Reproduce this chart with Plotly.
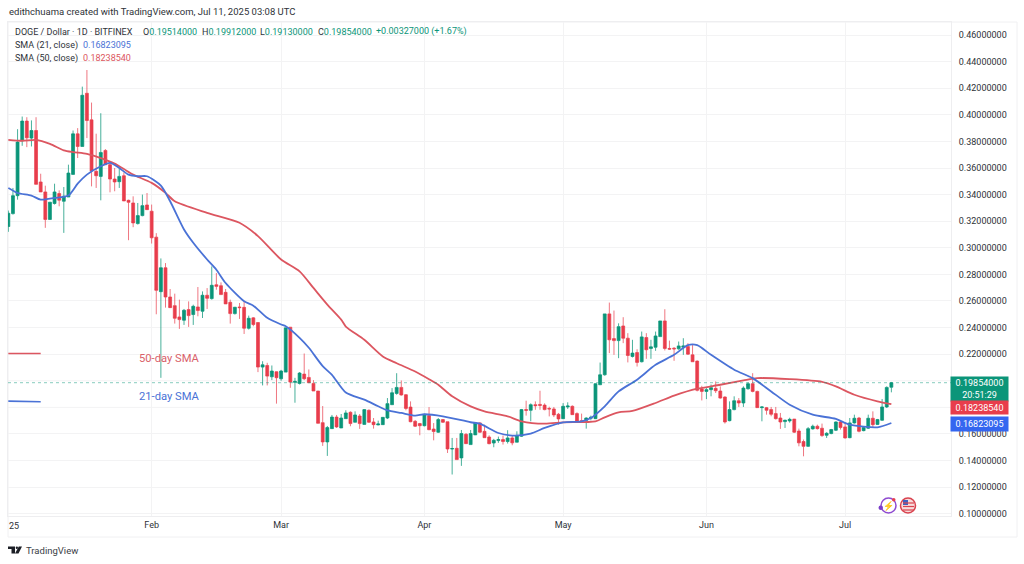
"""DOGE / Dollar daily candles with the 21 and 50 day SMA, TradingView look."""
import pandas as pd
import plotly.graph_objects as go

W, H = 1024, 564
PANE_L, PANE_R, PANE_T, PANE_B = 8, 951, 22, 516

# ==============================
#  Data
# ==============================
dates = pd.date_range("2025-01-01", periods=192, freq="D")

opens = [
    .316, .3257, .3392, .3805, .3953, .3825, .3882, .3495, .342, .3213, .3333, .3408,
    .335, .3382, .3552, .3857, .3762, .4162, .3962, .3575, .3537, .3732, .3625, .3517,
    .3497, .3542, .3357, .3337, .3182, .3242, .3322, .3275, .308, .267, .285, .263,
    .2565, .248, .2455, .2535, .2498, .2555, .2523, .2643, .2618, .2722, .2715, .2665,
    .259, .2505, .2555, .2552, .2395, .2473, .2438, .2103, .2115, .203, .2068, .2015,
    .2065, .2403, .1988, .198, .205, .2025, .198, .1923, .1685, .154, .164, .1727,
    .1645, .1715, .1763, .1688, .1735, .1672, .1778, .169, .1668, .167, .172, .182,
    .1905, .195, .1895, .1802, .1695, .1678, .1662, .1738, .1637, .1613, .1708, .1692,
    .1487, .1492, .142, .1597, .152, .1593, .1683, .162, .1577, .1532, .155, .1558,
    .1543, .157, .1538, .1583, .1783, .1778, .182, .1822, .1817, .1792, .1788, .1748,
    .1715, .1803, .1808, .1753, .17, .1702, .1718, .1715, .197, .2045, .2503, .2317,
    .2302, .2412, .232, .2183, .2212, .2143, .2325, .2243, .2252, .2332, .245, .2243,
    .2245, .224, .2252, .2258, .2195, .2148, .1938, .192, .1933, .1943, .1923, .1878,
    .17, .1783, .185, .1833, .194, .1978, .192, .1798, .1798, .1783, .1753, .172,
    .1693, .1698, .1712, .1622, .1543, .1507, .1638, .1658, .1643, .159, .1603, .1628,
    .169, .1653, .1572, .1683, .172, .1625, .1643, .1718, .1672, .1703, .1803, .19514,
]
highs = [
    .328, .345, .3892, .3987, .3982, .3958, .3982, .3557, .3467, .3343, .3482, .3432,
    .3457, .3625, .3882, .39, .4212, .4337, .4092, .3858, .4012, .3742, .365, .36,
    .36, .3567, .3362, .3387, .3337, .34, .3412, .3325, .311, .292, .2885, .269,
    .2655, .261, .254, .2597, .2572, .2705, .2672, .2697, .286, .281, .274, .269,
    .261, .2555, .2585, .2597, .249, .2478, .2438, .2147, .2135, .2115, .207, .2082,
    .2398, .2403, .2022, .2065, .2205, .2085, .2005, .1923, .181, .166, .1743, .1743,
    .175, .1778, .177, .177, .175, .1785, .1785, .172, .17, .1725, .187, .1945,
    .2057, .2002, .19, .1845, .1705, .1683, .1752, .1802, .1682, .172, .1712, .1692,
    .157, .157, .163, .1607, .163, .169, .1688, .167, .159, .1563, .158, .1588,
    .1628, .159, .162, .1788, .185, .183, .1845, .1925, .183, .1805, .1803, .1758,
    .1832, .1838, .1815, .1763, .1753, .1725, .1738, .198, .2137, .2503, .2588, .2528,
    .2432, .2478, .2358, .2308, .2237, .237, .2358, .2308, .237, .245, .2538, .2302,
    .2253, .2295, .232, .2283, .227, .2153, .1962, .1945, .1972, .1995, .1958, .1883,
    .1845, .1883, .187, .1958, .1988, .2057, .1925, .1808, .1803, .1803, .1803, .1758,
    .1708, .1722, .1712, .164, .1558, .1652, .1670, .1670, .1678, .1613, .1638, .1695,
    .1703, .1688, .172, .1745, .1728, .1657, .1745, .177, .1713, .1863, .1958, .19912,
]
lows = [
    .312, .325, .3362, .3767, .3757, .3762, .3477, .342, .315, .3213, .3325, .3312,
    .3112, .3382, .3552, .3675, .3762, .3825, .3462, .345, .3357, .3622, .3417, .3425,
    .345, .3352, .3057, .3155, .3175, .3237, .3287, .3032, .25, .2022, .255, .2548,
    .243, .239, .242, .2405, .242, .2485, .2472, .254, .261, .2685, .2648, .2578,
    .243, .2498, .2465, .2352, .2385, .241, .2065, .1965, .1965, .2005, .1828, .2,
    .2065, .1947, .1835, .1972, .2005, .1985, .1923, .168, .151, .1435, .164, .1645,
    .1645, .1715, .1658, .1688, .1638, .1672, .1683, .164, .1665, .167, .1712, .182,
    .1895, .1888, .1778, .1688, .1652, .159, .1657, .1628, .1552, .1608, .1683, .1457,
    .1295, .1407, .136, .1527, .152, .1593, .1608, .1572, .1522, .15, .1533, .152,
    .1528, .1515, .1538, .1578, .1738, .1695, .1782, .1782, .1778, .1732, .1727, .167,
    .1712, .1788, .1745, .1690, .1688, .164, .1703, .1712, .197, .2038, .2208, .2195,
    .217, .2283, .2138, .2175, .2107, .2138, .2165, .2165, .2225, .2332, .2228, .2232,
    .215, .2233, .2195, .2195, .2143, .1920, .1852, .1862, .1883, .1908, .1865, .1678,
    .1695, .1778, .1803, .1803, .1933, .1913, .1798, .1695, .1745, .1733, .1708, .1638,
    .1645, .1685, .1607, .1507, .1432, .1503, .1633, .1633, .1578, .157, .1598, .1622,
    .1633, .1565, .1568, .1678, .1612, .1620, .1638, .1652, .1668, .1698, .1795, .1913,
]
closes = [
    .326, .3392, .3795, .3953, .3827, .3882, .3477, .342, .3213, .3343, .342, .3358,
    .3388, .3562, .3857, .3762, .4147, .3957, .3577, .3542, .3717, .3625, .3517, .3495,
    .3537, .3352, .3342, .3187, .3242, .3317, .3287, .3075, .268, .285, .263, .255,
    .247, .246, .253, .249, .256, .2528, .2643, .262, .2718, .271, .2648, .2578,
    .2505, .2553, .255, .2395, .247, .2423, .2103, .212, .2035, .2073, .2023, .2073,
    .2398, .199, .1995, .2058, .2015, .1985, .1923, .168, .154, .1648, .1727, .1653,
    .172, .1758, .1678, .1743, .1678, .1783, .1688, .167, .1675, .1725, .1828, .191,
    .195, .1893, .1792, .1692, .1658, .1662, .1745, .1632, .1618, .1708, .1688, .1487,
    .149, .1407, .1603, .1527, .1603, .1683, .1613, .1572, .1527, .1552, .1558, .1543,
    .157, .1533, .1588, .1783, .1778, .182, .1813, .1815, .1783, .1788, .1743, .1713,
    .1808, .181, .1745, .1695, .1695, .172, .1725, .1978, .2045, .2503, .2308, .2302,
    .2407, .232, .219, .2208, .2138, .233, .2233, .2255, .2337, .245, .2243, .2238,
    .224, .2262, .2262, .22, .2143, .1928, .192, .1933, .1948, .1925, .187, .169,
    .1783, .185, .1833, .1945, .1978, .192, .1798, .1803, .1778, .1748, .1715, .169,
    .1703, .171, .1613, .1533, .1507, .164, .1658, .164, .1588, .1605, .1633, .169,
    .1648, .157, .1683, .1718, .162, .1648, .1718, .167, .1708, .1803, .195, .19854,
]

# SMA readings: day number since Jan 1, value at that day
sma21_days = [0, 2, 5, 7, 10, 13, 15, 17, 20, 22, 24, 26, 28, 30, 33, 35, 38, 40, 43, 45, 47,
              51, 53, 56, 59, 60, 63, 65, 68, 70, 73, 77, 80, 82, 85, 88, 90, 94, 100, 102,
              106, 109, 113, 116, 120, 124, 126, 129, 132, 136, 140, 144, 147, 149, 152,
              157, 161, 165, 169, 174, 179, 182, 188, 191]
sma21_vals = [.345, .3412, .3392, .3362, .3375, .3393, .3482, .355, .3613, .3638, .36, .355,
              .3538, .3538, .3468, .335, .3138, .3038, .2912, .2835, .2735, .2598, .2565,
              .2473, .2423, .241, .2323, .2248, .211, .2045, .1912, .1858, .1808, .1778,
              .1758, .1738, .1748, .1733, .1688, .1677, .1607, .1588, .1603, .1645, .1687,
              .1695, .172, .1808, .192, .2008, .212, .2195, .2268, .2268, .2195, .2083,
              .202, .192, .182, .1745, .1713, .167, .165, .16823]
sma50_days = [0, 3, 6, 9, 12, 14, 17, 20, 23, 25, 27, 31, 34, 36, 43, 50, 54, 59, 63, 66, 69,
              72, 73, 77, 81, 84, 88, 91, 93, 96, 100, 103, 108, 111, 116, 120, 127, 129,
              132, 135, 140, 144, 149, 154, 159, 162, 169, 176, 179, 183, 188, 191]
sma50_vals = [.3812, .3805, .3812, .3782, .3733, .372, .3707, .3675, .3633, .3592, .355, .3488,
              .3413, .335, .3263, .3188, .3088, .2912, .2823, .2698, .2573, .246, .2408,
              .2308, .2183, .2132, .207, .2012, .197, .1883, .1807, .177, .1733, .1695,
              .1677, .1687, .1695, .1725, .1762, .1773, .1833, .1888, .194, .197, .2003,
              .202, .2012, .1992, .1958, .1895, .1845, .18239]

# short leftovers of the pasted SMA key on the left edge
key_days = [0, 7]
key50_vals = [.2205, .2205]
key21_vals = [.1847, .1842]

tick_months = ["2025-02-01", "2025-03-01", "2025-04-01", "2025-05-01", "2025-06-01", "2025-07-01"]
month_labels = ["Feb", "Mar", "Apr", "May", "Jun", "Jul"]
price_ticks = [.46, .44, .42, .40, .38, .36, .34, .32, .30, .28, .26, .24, .22, .16, .14, .12, .10]
price_grid = [.20, .18]

GREEN, RED = "#0b9579", "#e83d4c"
LINE_BLUE, LINE_RED = "#4a72d6", "#dc5660"
GRID = "#f3f3f4"
TEXT = "#2e3238"
FONT = "Roboto"


def px(x):
    return (x - PANE_L) / (PANE_R - PANE_L)


def py(y):
    return (PANE_B - y) / (PANE_B - PANE_T)


def label(x, y, text, color=TEXT, size=9, anchor="left", **kw):
    fig.add_annotation(x=px(x), y=py(y), xref="paper", yref="paper", text=text, showarrow=False,
                       xanchor=anchor, yanchor="middle", font=dict(size=size, color=color, family=FONT),
                       borderpad=0, **kw)


def day(n):
    return dates[0] + pd.Timedelta(days=n)


# ==============================
#  Traces
# ==============================
fig = go.Figure()

fig.add_trace(go.Candlestick(
    x=dates, open=opens, high=highs, low=lows, close=closes,
    increasing=dict(line=dict(color="rgba(11,149,121,0.75)", width=1), fillcolor=GREEN),
    decreasing=dict(line=dict(color="rgba(232,61,76,0.7)", width=1), fillcolor=RED),
    whiskerwidth=0, showlegend=False,
))
fig.add_trace(go.Scatter(x=[day(d) for d in sma50_days], y=sma50_vals, mode="lines",
                         line=dict(color=LINE_RED, width=1.8, shape="spline", smoothing=0.7),
                         showlegend=False))
fig.add_trace(go.Scatter(x=[day(d) for d in sma21_days], y=sma21_vals, mode="lines",
                         line=dict(color=LINE_BLUE, width=1.8, shape="spline", smoothing=0.7),
                         showlegend=False))
fig.add_trace(go.Scatter(x=[day(d) for d in key_days], y=key50_vals, mode="lines",
                         line=dict(color=LINE_RED, width=1.6), showlegend=False))
fig.add_trace(go.Scatter(x=[day(d) for d in key_days], y=key21_vals, mode="lines",
                         line=dict(color=LINE_BLUE, width=1.6), showlegend=False))

# ==============================
#  Layout
# ==============================
fig.update_layout(
    width=W, height=H, autosize=False,
    margin=dict(l=PANE_L, r=W - PANE_R, t=PANE_T, b=H - PANE_B, pad=0),
    paper_bgcolor="white", plot_bgcolor="white",
    font=dict(family=FONT, size=9, color=TEXT),
    showlegend=False, boxgap=0.1, hovermode=False,
)
fig.update_xaxes(
    rangeslider_visible=False,
    range=[day(-0.07), day(203.9)],
    tickmode="array", tickvals=tick_months, ticktext=month_labels,
    showgrid=True, gridcolor=GRID, gridwidth=1, zeroline=False,
    showline=True, linecolor="#eeeef0", linewidth=1, mirror=True,
    ticks="", ticklen=0, tickfont=dict(size=9, color=TEXT, family=FONT),
)
fig.update_yaxes(
    side="right", range=[.0983, .4698],
    tickmode="array", tickvals=price_ticks, ticktext=[f"{v:.8f}" for v in price_ticks],
    showgrid=True, gridcolor=GRID, gridwidth=1, zeroline=False,
    showline=True, linecolor="#eeeef0", linewidth=1, mirror=True,
    ticks="outside", ticklen=5, tickcolor="rgba(0,0,0,0)",
    tickfont=dict(size=9, color=TEXT, family=FONT),
)

# gridlines behind the price tags have no tick label
for v in price_grid:
    fig.add_hline(y=v, line=dict(color=GRID, width=1), layer="below")

# last price dotted line
fig.add_hline(y=closes[-1], line=dict(color="rgba(11,149,121,0.7)", width=0.7, dash="dot"))

# outer frame of the price scale and time scale
fig.add_shape(type="rect", xref="paper", yref="paper", x0=px(8), x1=px(1017), y0=py(22), y1=py(537),
              line=dict(color="#f0f0f2", width=1), layer="below")

# ==============================
#  Text
# ==============================
label(8, 11, "edithchuama created with TradingView.com, Jul 11, 2025 03:08 UTC", size=9.5)

label(14, 32, "DOGE / Dollar · 1D · BITFINEX", size=9)
label(142, 32, "O<span style='color:%s'>%.8f</span>" % (GREEN, opens[-1]))
label(201, 32, "H<span style='color:%s'>%.8f</span>" % (GREEN, highs[-1]))
label(259, 32, "L<span style='color:%s'>%.8f</span>" % (GREEN, lows[-1]))
label(317, 32, "C<span style='color:%s'>%.8f</span>" % (GREEN, closes[-1]))
label(375, 32, "+0.00327000 (+1.67%)", color=GREEN)
label(14, 45, "SMA (21, close)")
label(82, 45, "0.16823095", color=LINE_BLUE)
label(14, 58, "SMA (50, close)")
label(82, 58, "0.18238540", color=LINE_RED)

label(138, 358, "50-day SMA", color="#d9616a", size=11.2)
label(138, 396, "21-day SMA", color=LINE_BLUE, size=11.2)

label(8, 526, "25", size=9)

# price tags on the scale
label(980, 389, "0.19854000<br>20:51:29", color="white", anchor="center", bgcolor=GREEN, width=57, height=24)
label(980, 407.5, "0.18238540", color="white", anchor="center", bgcolor=RED, width=57, height=13)
label(980, 424, "0.16823095", color="white", anchor="center", bgcolor="#3466f0", width=57, height=14)

# TradingView mark
fig.add_shape(type="path", xref="paper", yref="paper", fillcolor="#1c1f26", line_width=0,
              path="M %f %f L %f %f L %f %f L %f %f L %f %f L %f %f Z" % (
                  px(8), py(546.5), px(15), py(546.5), px(15), py(553.5),
                  px(11.5), py(553.5), px(11.5), py(549), px(8), py(549)))
fig.add_shape(type="circle", xref="paper", yref="paper", fillcolor="#1c1f26", line_width=0,
              x0=px(15.7), x1=px(18), y0=py(549), y1=py(546.5))
fig.add_shape(type="path", xref="paper", yref="paper", fillcolor="#1c1f26", line_width=0,
              path="M %f %f L %f %f L %f %f L %f %f Z" % (
                  px(18.8), py(546.5), px(22), py(546.5), px(18.5), py(553.5), px(15), py(553.5)))
label(25, 550.5, "TradingView", color="#3a3e46", size=9.5)

# event badges near the bottom of the pane
fig.add_shape(type="circle", xref="paper", yref="paper", line=dict(color="#8f4bd0", width=1.5),
              fillcolor="white", x0=px(881), x1=px(896), y0=py(513), y1=py(498))
fig.add_shape(type="circle", xref="paper", yref="paper", fillcolor="#7b3fc9", line_width=0,
              x0=px(878.5), x1=px(883), y0=py(510), y1=py(505.5))
fig.add_shape(type="circle", xref="paper", yref="paper", fillcolor=RED, line_width=0,
              x0=px(892), x1=px(895.5), y0=py(501.5), y1=py(498))
label(888.5, 505.5, "⚡", color="#8f4bd0", size=9, anchor="center")
fig.add_shape(type="circle", xref="paper", yref="paper", fillcolor="#f7dcdc", line=dict(color="#d9434f", width=1.5),
              x0=px(900.5), x1=px(915.5), y0=py(513), y1=py(498))
fig.add_shape(type="rect", xref="paper", yref="paper", fillcolor="#3b62c4", line_width=0,
              x0=px(903), x1=px(908), y0=py(505), y1=py(500))
for stripe_y in (503, 506.5, 510):
    fig.add_shape(type="line", xref="paper", yref="paper", line=dict(color="#d9434f", width=1.2),
                  x0=px(903), x1=px(914), y0=py(stripe_y), y1=py(stripe_y))

# the default page margin would push the whole chart 8px off
fig.write_html("out.html", config=dict(displayModeBar=False),
               post_script="document.body.style.margin='0';")
